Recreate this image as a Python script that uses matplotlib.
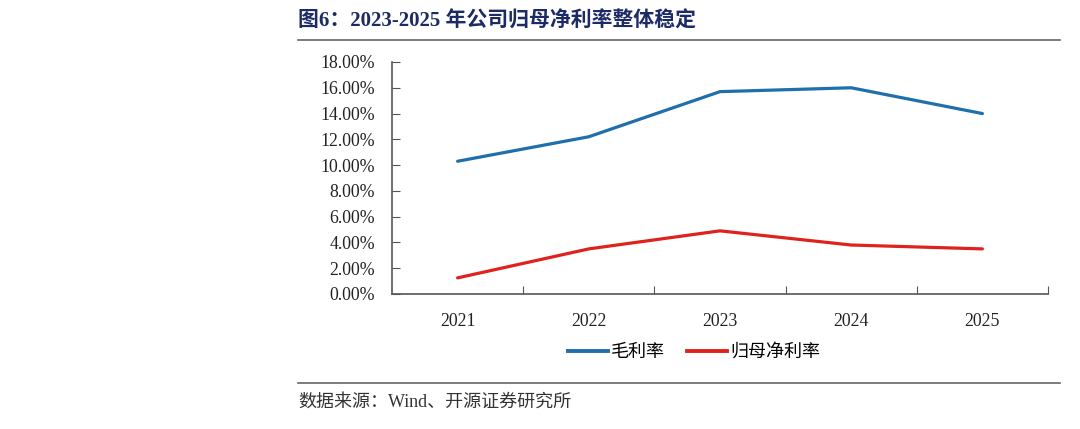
import matplotlib
matplotlib.use("Agg")
import matplotlib.pyplot as plt
from matplotlib.lines import Line2D
from matplotlib.ticker import FuncFormatter

# data
years = ["2021", "2022", "2023", "2024", "2025"]
gross_margin = [10.3, 12.2, 15.7, 16.0, 14.0]
net_margin = [1.25, 3.5, 4.9, 3.8, 3.5]
series_names = ["毛利率", "归母净利率"]
y_ticks = [0, 2, 4, 6, 8, 10, 12, 14, 16, 18]

serif = ["Liberation Serif", "Noto Sans CJK SC"]
cjk = ["Noto Sans CJK SC", "DejaVu Sans"]

fig = plt.figure(figsize=(10.8, 4.29), dpi=100)
ax = fig.add_axes([392 / 1080, 1 - 294 / 429, 656 / 1080, 232 / 429])

x = list(range(len(years)))
ax.plot(x, gross_margin, color="#1f6fad", lw=2.3, solid_capstyle="round")
ax.plot(x, net_margin, color="#e0221e", lw=2.3, solid_capstyle="round")

ax.set_xlim(-0.5, len(years) - 0.5)
ax.set_ylim(0, 18)
ax.set_yticks(y_ticks)
ax.yaxis.set_major_formatter(FuncFormatter(lambda v, p: f"{v:.2f}%"))
ax.set_xticks([i + 0.5 for i in x[:-1]] + [len(years) - 0.5])
ax.set_xticklabels([])
ax.set_xticks(x, minor=True)
ax.set_xticklabels(years, minor=True)
ax.tick_params(axis="x", which="major", direction="in", length=6, color="#555555")
ax.tick_params(axis="x", which="minor", length=0, pad=14)
ax.tick_params(axis="y", direction="in", length=6, color="#555555", pad=12)
for lab in ax.get_yticklabels() + ax.get_xticklabels(minor=True):
    lab.set_family(serif)
    lab.set_fontsize(12.8)
    lab.set_color("#222222")
for s in ["top", "right"]:
    ax.spines[s].set_visible(False)
for s in ["left", "bottom"]:
    ax.spines[s].set_color("#555555")
    ax.spines[s].set_linewidth(1.2)

handles = [Line2D([], [], color="#1f6fad", lw=2.8),
           Line2D([], [], color="#e0221e", lw=2.8)]
fig.legend(handles, series_names, loc="center", bbox_to_anchor=(694 / 1080, 1 - 352 / 429),
           ncol=2, frameon=False, prop={"family": cjk, "size": 13},
           handlelength=2.2, handletextpad=0.2, columnspacing=1.2)

# title and source
fig.text(298 / 1080, 1 - 22 / 429, "图6：2023-2025 年公司归母净利率整体稳定",
         family=serif, fontsize=15, fontweight="bold", color="#1c2a66", va="center")
fig.add_artist(Line2D([298 / 1080, 1060 / 1080], [1 - 40 / 429] * 2, color="#666666", lw=1.2))
fig.add_artist(Line2D([298 / 1080, 1060 / 1080], [1 - 383 / 429] * 2, color="#666666", lw=1.2))
fig.text(298 / 1080, 1 - 402 / 429, "数据来源：Wind、开源证券研究所",
         family=["Liberation Serif", "Noto Sans CJK SC"], fontsize=13, color="#333333", va="center")

fig.savefig("out.png", dpi=100, facecolor="white")
